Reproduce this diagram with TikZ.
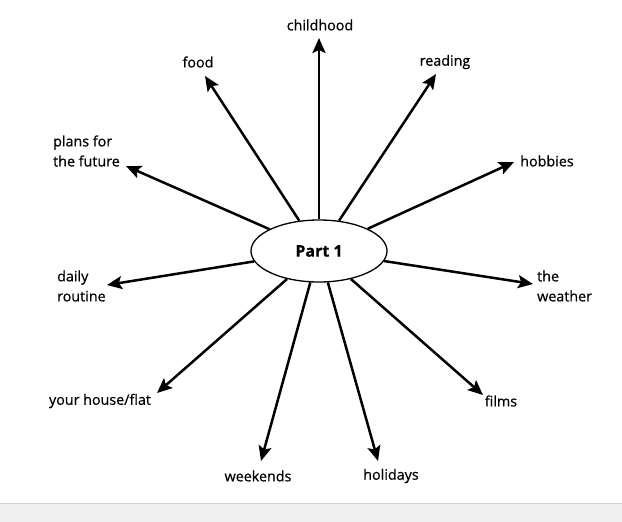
\documentclass[tikz,border=0pt]{standalone}
\usepackage{fontspec}
\setmainfont[FakeBold=0.6]{Open Sans}
\usetikzlibrary{arrows.meta,shapes.geometric}
\definecolor{stripgray}{HTML}{EFEFEF}
\definecolor{stripline}{HTML}{D2D2D2}
\begin{document}
\begin{tikzpicture}[x=1pt,y=-1pt,
  lbl/.style={font=\fontsize{14.3}{20}\selectfont, inner sep=0pt, align=left},
  spoke/.style={line width=2.5pt, -{Stealth[length=15pt,width=13pt,inset=3pt]}},
  hub/.style={ellipse, draw, line width=1.3pt, minimum width=136pt, minimum height=62pt, inner sep=0pt, font=\fontsize{16}{18}\selectfont\bfseries}]
\useasboundingbox (0,0) rectangle (622,522);
\fill[stripgray] (0,503) rectangle (622,522);
\draw[stripline, line width=1pt] (0,503) -- (622,503);

\node[hub] (part) at (319,251) {Part 1};

\node[lbl] (childhood) at (320,25) {childhood};
\node[lbl] (food) at (198,62) {food};
\node[lbl] (reading) at (445,62) {reading};
\node[lbl, anchor=west] (plans) at (53,151) {plans for\\the future};
\node[lbl] (hobbies) at (547,161) {hobbies};
\node[lbl, anchor=west] (daily) at (57,286) {daily\\routine};
\node[lbl, anchor=west] (weather) at (537,286) {the\\weather};
\node[lbl] (house) at (100,401) {your house/flat};
\node[lbl] (films) at (501,401) {films};
\node[lbl] (weekends) at (258,476) {weekends};
\node[lbl] (holidays) at (391,476) {holidays};

\coordinate (tChild) at (319,38);
\coordinate (tFood) at (205,76);
\coordinate (tRead) at (436,74);
\coordinate (tPlans) at (126,166);
\coordinate (tHobby) at (514,162);
\coordinate (tDaily) at (107,285);
\coordinate (tWeather) at (533,284);
\coordinate (tHouse) at (157,393);
\coordinate (tFilms) at (483,395);
\coordinate (tWeek) at (261,461);
\coordinate (tHol) at (378,461);

\foreach \t in {tChild,tFood,tRead,tPlans,tHobby,tDaily,tWeather,tHouse,tFilms,tWeek,tHol}
  \draw[spoke] (part) -- (\t);
\end{tikzpicture}
\end{document}
